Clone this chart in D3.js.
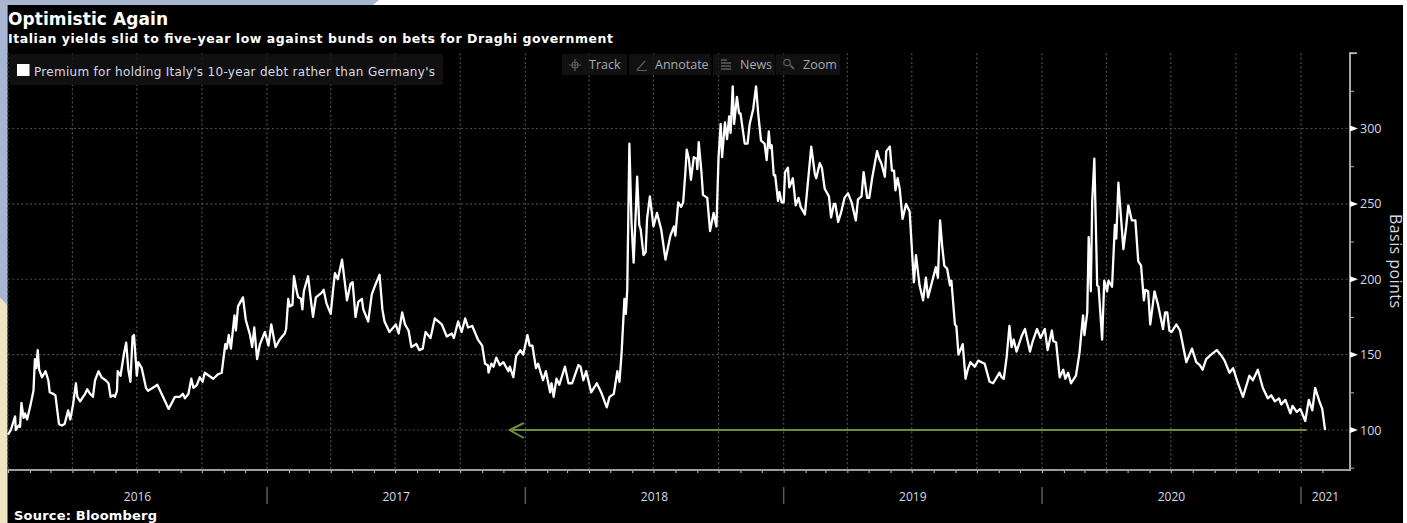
<!DOCTYPE html>
<html>
<head>
<meta charset="utf-8">
<script src="https://cdnjs.cloudflare.com/ajax/libs/d3/7.8.5/d3.min.js"></script>
<style>
html,body{margin:0;padding:0;background:#fff;overflow:hidden}
svg{display:block}
</style>
</head>
<body>
<svg id="chart" width="1407" height="523"></svg>
<script>
const titleText = "Optimistic Again";
const subtitleText = "Italian yields slid to five-year low against bunds on bets for Draghi government";
const sourceText = "Source: Bloomberg";
const legendText = "Premium for holding Italy's 10-year debt rather than Germany's";
const yAxisTitle = "Basis points";
const toolbarLabels = ["Track", "Annotate", "News", "Zoom"];
const yearLabels = [2016, 2017, 2018, 2019, 2020, 2021];
const yTicks = [100, 150, 200, 250, 300];
const seriesStart = Date.UTC(2016, 0, 1);
const arrowStartDay = 1835;
const arrowEndDay = 709;
const arrowLevel = 100;

// Days since 1 Jan 2016 for each reading of the spread
const days = [
0,4,10,11,15,17,19,22,24,27,32,36,38,40,42,44,48,53,57,59,64,67,72,76,80,85,88,92,96,98,102,106,109,112,116,120,123,128,132,138,142,145,149,151,154,155,159,164,167,170,173,176,178,181,182,184,189,195,198,208,211,217,227,236,243,247,250,255,259,262,267,271,275,278,290,297,302,307,309,312,315,320,322,325,332,336,342,345,348,352,356,363,368,372,378,384,391,393,396,398,402,404,408,410,414,416,418,424,428,431,435,443,446,450,456,460,
462,466,472,479,484,487,491,495,500,502,509,514,518,525,529,532,539,548,552,557,561,566,570,577,581,586,590,597,603,613,620,627,630,636,641,646,650,656,664,670,674,678,679,683,686,690,695,700,707,709,714,718,724,728,734,737,741,746,749,756,760,766,768,771,775,779,787,792,797,806,809,813,817,824,832,839,846,850,856,861,864,867,871,873,875,878,881,884,887,889,892,894,898,901,903,907,912,917,923,929,936,941,943,947,951,954,957,959,962,965,969,973,974,976,980,982,988,992,997,1001,1004,1007,1009,1013,1016,1019,1021,1024,1026,1030,1033,1035,1041,1045,1048,1053,1057,1060,1064,1069,1072,1075,1077,1079,1082,1084,1088,1090,1093,1096,1098,1102,1104,1109,1113,1117,1120,1126,1129,1135,1140,1142,1147,1150,1154,1160,1163,1167,1169,1173,1177,1182,1187,1192,1198,1201,1206,1209,1214,1217,1221,1228,1231,1234,1239,1241,1246,1249,1252,1254,1257,1260,1264,1269,1274,1280,1283,1288,1293,1297,1300,1311,1314,1317,1320,1323,1327,1331,1333,1338,1340,1343,1349,1353,1356,1360,1366,1371,1380,1387,1392,1401,1404,1407,1411,1415,1418,1421,1425,1432,1437,1444,1448,1454,1459,1465,1469,1475,1477,1481,1486,1491,1494,1498,1502,1509,1514,1519,1521,1525,1527,1530,1532,1535,1539,1541,1546,1549,1553,1555,1560,1564,1566,1569,1576,1580,1583,1588,1593,1597,1601,1605,1607,1611,1614,1620,1625,1632,1635,1638,1641,1644,1651,1656,1665,1673,1679,1684,1688,1693,1700,1708,1715,1719,1726,1731,1738,1745,1754,1759,1766,1773,1780,1785,1790,1796,1799,1805,1812,1815,1821,1826,1833,1838,1843,1847,1853,1857,1861
];

// Italy minus Germany 10-year yield spread, basis points
const spread = [
97,100,109,100,103,102,118,108,111,107,117,126,147,141,153,140,135,139,133,125,124,123,104,103,104,113,107,117,131,122,119,122,124,127,124,122,133,139,135,133,131,122,123,122,126,139,136,151,158,140,132,162,163,143,136,145,141,128,126,129,130,124,114,122,122,124,121,124,134,128,130,135,132,138,134,137,138,157,154,163,154,176,166,182,188,173,163,155,168,147,157,165,156,170,155,160,164,167,187,182,183,202,192,188,187,180,192,202,186,175,188,191,193,184,177,196,
204,200,213,186,197,198,175,185,187,180,172,190,195,203,180,172,165,170,164,178,170,166,155,157,153,154,165,161,174,170,162,164,161,172,165,174,168,169,160,156,144,143,138,144,142,148,143,145,139,142,135,149,153,150,163,156,156,141,144,133,139,125,131,122,134,130,142,131,131,143,142,133,139,125,131,124,115,122,124,139,132,151,187,177,193,290,238,211,244,268,236,233,216,218,240,255,235,244,233,213,229,235,229,251,248,251,270,286,280,266,281,280,273,291,270,256,254,232,244,235,281,303,281,304,293,308,297,328,303,321,310,310,290,290,303,313,328,310,292,290,279,298,287,289,269,269,252,258,251,251,271,274,261,267,249,254,248,243,258,288,270,267,277,274,260,255,241,250,250,238,244,254,257,251,239,253,255,271,254,254,267,285,280,277,268,285,288,272,272,259,267,260,240,250,245,198,216,196,186,201,188,208,201,239,222,209,207,196,199,170,169,150,157,134,140,145,142,146,144,132,131,138,135,134,148,169,155,160,152,162,167,152,159,167,161,167,153,166,159,158,135,140,134,138,131,136,151,176,163,178,228,192,252,280,196,195,160,199,192,199,195,236,227,264,220,235,249,239,239,212,209,186,193,192,170,192,183,167,178,178,166,165,170,166,145,154,145,143,140,147,150,153,149,146,138,141,131,122,136,133,140,128,121,123,119,121,117,120,111,116,112,114,106,120,113,128,119,114,100
];

const svg = d3.select("#chart");

// Page backdrop around the black panel
svg.append("rect").attr("width", 1407).attr("height", 523).attr("fill", "#ffffff");
svg.append("path").attr("d", "M0,0H379L373,5H8V306L0,298Z").attr("fill", "#a9b6d2");
svg.append("path").attr("d", "M0,298L8,306V523H0Z").attr("fill", "#f0e5c3");
svg.append("rect").attr("x", 8).attr("y", 5).attr("width", 1395).attr("height", 518).attr("fill", "#000");
svg.append("line").attr("x1", 7.5).attr("x2", 7.5).attr("y1", 5).attr("y2", 523).attr("stroke", "#3d82c2");

// Scales: the time scale runs to the start of 2021, and continues past it
const x = d3.scaleUtc().domain([new Date(Date.UTC(2016, 0, 1)), new Date(Date.UTC(2021, 0, 1))]).range([8, 1301]);
const y = d3.scaleLinear().domain([100, 300]).range([430, 128.5]);
const dateOf = d => new Date(seriesStart + d * 864e5);

const plotLeft = 8, plotRight = 1350, plotTop = y(350), axisY = 470;
const gridColor = "#4c4c4c";
const textColor = "#d5dbe4";

// Dotted grid
const grid = svg.append("g").attr("stroke", gridColor).attr("stroke-width", 1.2).attr("stroke-dasharray", "2 2.4");
grid.selectAll("line.h").data(yTicks).join("line").attr("class", "h")
  .attr("x1", plotLeft).attr("x2", plotRight).attr("y1", d => y(d)).attr("y2", d => y(d));
grid.selectAll("line.v").data(x.ticks(d3.utcMonth.every(3))).join("line").attr("class", "v")
  .attr("x1", d => x(d)).attr("x2", d => x(d)).attr("y1", plotTop).attr("y2", axisY);

// Legend strip
svg.append("rect").attr("x", 9).attr("y", 54).attr("width", 434).attr("height", 31).attr("rx", 2).attr("fill", "#131313").attr("fill-opacity", 0.85);
svg.append("rect").attr("x", 17).attr("y", 64).attr("width", 12.5).attr("height", 12).attr("fill", "#fff");
svg.append("text").attr("x", 34).attr("y", 75.5).attr("font-family", "'DejaVu Sans'").attr("font-size", 12)
  .attr("fill", textColor).attr("textLength", 401).attr("lengthAdjust", "spacing").text(legendText);

// Toolbar buttons with small glyphs
const toolbarBoxes = [[562, 65, 589], [629, 82, 655], [713, 62, 740], [776, 64, 803]];
const toolbar = svg.append("g");
toolbarLabels.forEach((label, i) => {
  const [bx, bw, tx] = toolbarBoxes[i];
  toolbar.append("rect").attr("x", bx).attr("y", 54).attr("width", bw).attr("height", 21).attr("fill", "#141414").attr("fill-opacity", 0.85);
  toolbar.append("text").attr("x", tx).attr("y", 68.5).attr("font-family", "'Open Sans'").attr("font-size", 12.5)
    .attr("fill", "#a4acb8").text(label);
});
const icons = toolbar.append("g").attr("stroke", "#5c5c5c").attr("fill", "none").attr("stroke-width", 1.2);
icons.append("path").attr("d", "M575,59V71M569,65H581");
icons.append("circle").attr("cx", 575).attr("cy", 65).attr("r", 3);
icons.append("path").attr("d", "M637,70L645,61M637,70.5H647");
icons.append("path").attr("d", "M721,60H727M721,63H731M721,66H731M721,69H731").attr("stroke-width", 1.6);
icons.append("circle").attr("cx", 787).attr("cy", 62.5).attr("r", 3.2);
icons.append("path").attr("d", "M790,65L794,69").attr("stroke-width", 1.8);

// Five-year-low reference arrow
const arrowY = y(arrowLevel);
const arrowTip = x(dateOf(arrowEndDay));
svg.append("path")
  .attr("d", `M${x(dateOf(arrowStartDay))},${arrowY}H${arrowTip}m14,-7l-14,7l14,8`)
  .attr("fill", "none").attr("stroke", "#6d8c3e").attr("stroke-width", 2);

// Spread line
const line = d3.line().x((d, i) => x(dateOf(days[i]))).y(d => y(d));
svg.append("path").datum(spread).attr("d", line).attr("fill", "none")
  .attr("stroke", "#fff").attr("stroke-width", 2.3).attr("stroke-linejoin", "round");

// Bottom axis: monthly ticks
const xAxis = d3.axisBottom(x).ticks(d3.utcMonth.every(1)).tickSize(3).tickFormat("");
const gx = svg.append("g").attr("transform", `translate(0,${axisY})`).call(xAxis);
gx.select(".domain").remove();
gx.selectAll("line").attr("stroke", "#d0d0d0");
[...d3.utcMonth.range(new Date(Date.UTC(2021, 0, 1)), new Date(Date.UTC(2021, 2, 1)))].slice(1).forEach(m => {
  svg.append("line").attr("x1", x(m)).attr("x2", x(m)).attr("y1", axisY).attr("y2", axisY + 3).attr("stroke", "#d0d0d0");
});
svg.append("line").attr("x1", plotLeft).attr("x2", plotRight + 1).attr("y1", axisY).attr("y2", axisY)
  .attr("stroke", "#9c9c9c").attr("stroke-width", 2);

// Year dividers and labels
const yearEdges = yearLabels.map(yr => x(new Date(Date.UTC(yr, 0, 1)))).concat(plotRight);
svg.append("g").selectAll("line").data(yearEdges.slice(1, -1)).join("line")
  .attr("x1", d => d).attr("x2", d => d).attr("y1", 487).attr("y2", 504).attr("stroke", "#5a5a5a").attr("stroke-width", 1.5);
svg.append("g").selectAll("text").data(yearLabels).join("text")
  .attr("x", (d, i) => (yearEdges[i] + yearEdges[i + 1]) / 2).attr("y", 500.5).attr("text-anchor", "middle")
  .attr("font-family", "'Open Sans'").attr("font-size", 12).attr("fill", textColor).text(d => d);

// Right axis: small ticks every 25, pointers at labelled values
const gy = svg.append("g").attr("transform", `translate(${plotRight},0)`)
  .call(d3.axisRight(y).tickValues(d3.range(75, 351, 25)).tickSize(4).tickFormat(""));
gy.select(".domain").remove();
gy.selectAll("line").attr("stroke", "#b8b8b8");
svg.append("line").attr("x1", plotRight).attr("x2", plotRight).attr("y1", plotTop - 1).attr("y2", axisY + 1)
  .attr("stroke", "#a6a6a6").attr("stroke-width", 2);
svg.append("line").attr("x1", plotRight).attr("x2", plotRight + 7).attr("y1", plotTop).attr("y2", plotTop)
  .attr("stroke", "#d0d0d0").attr("stroke-width", 1.5);
const yLabels = svg.append("g").selectAll("g").data(yTicks).join("g").attr("transform", d => `translate(${plotRight},${y(d)})`);
yLabels.append("path").attr("d", "M0,-3L8,0L0,3Z").attr("fill", "#fff");
yLabels.append("text").attr("x", 10).attr("y", 4.6).attr("font-family", "'Open Sans'").attr("font-size", 12.5)
  .attr("fill", textColor).text(d => d);

svg.append("text").attr("transform", "translate(1390,214) rotate(90)")
  .attr("font-family", "'Open Sans'").attr("font-size", 16).attr("fill", textColor)
  .attr("textLength", 94).attr("lengthAdjust", "spacing").text(yAxisTitle);

// Headline block
svg.append("text").attr("x", 8).attr("y", 25).attr("font-family", "'DejaVu Sans'").attr("font-weight", "bold")
  .attr("font-size", 17).attr("fill", "#fff").attr("textLength", 160).attr("lengthAdjust", "spacing").text(titleText);
svg.append("text").attr("x", 8).attr("y", 42.5).attr("font-family", "'DejaVu Sans'").attr("font-weight", "bold")
  .attr("font-size", 12.5).attr("fill", "#fff").attr("textLength", 605).attr("lengthAdjust", "spacing").text(subtitleText);
svg.append("text").attr("x", 14).attr("y", 520).attr("font-family", "'DejaVu Sans'").attr("font-weight", "bold")
  .attr("font-size", 13).attr("fill", "#fff").attr("textLength", 143).attr("lengthAdjust", "spacing").text(sourceText);
</script>
</body>
</html>
